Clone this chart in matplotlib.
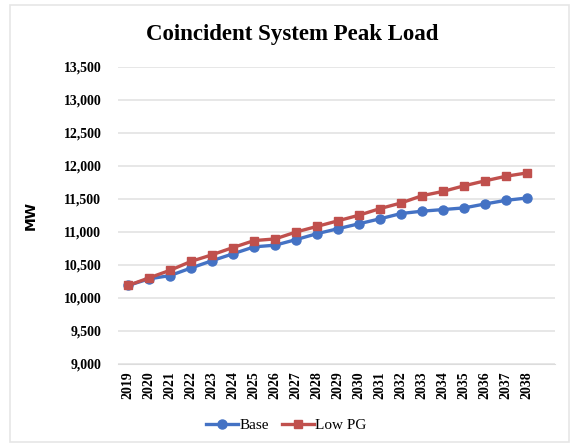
import numpy as np
import matplotlib
matplotlib.use('Agg')
import matplotlib.pyplot as plt
from matplotlib.patches import Rectangle

# Chart values
years = [str(y) for y in range(2019, 2039)]
base = [10190, 10290, 10340, 10455, 10565, 10670, 10775, 10800, 10885, 10975,
        11050, 11125, 11200, 11280, 11315, 11340, 11365, 11425, 11480, 11515]
low_pg = [10190, 10305, 10420, 10555, 10655, 10765, 10870, 10895, 11000, 11085,
          11170, 11255, 11355, 11440, 11550, 11615, 11700, 11775, 11845, 11895]
yticks = np.arange(9000, 13501, 500)

serif = 'Liberation Serif'

fig = plt.figure(figsize=(5.73, 4.48), dpi=100)
ax = fig.add_axes([0.206, 0.1875, 0.763, 0.663])

x = np.arange(len(years))
ax.plot(x, base, color='#4472C4', marker='o', markersize=6.5, linewidth=2.4, label='Base', zorder=3)
ax.plot(x, low_pg, color='#C0504D', marker='s', markersize=5.5, linewidth=2.4, label='Low PG', zorder=4)

ax.set_ylim(9000, 13500)
ax.set_xlim(-0.48, 20.34)
ax.set_yticks(yticks)
ax.set_yticklabels([f'{v:,}' for v in yticks], fontfamily=serif, fontweight='bold', fontsize=10)
ax.set_xticks(x)
ax.set_xticklabels(years, rotation=90, fontfamily=serif, fontweight='bold', fontsize=10)
ax.tick_params(length=0)
ax.tick_params(axis='y', pad=12)
ax.tick_params(axis='x', pad=5)
ax.grid(axis='y', color='#e3e3e3', linewidth=1.2)
ax.set_axisbelow(True)
for s in ['top', 'right', 'left']:
    ax.spines[s].set_visible(False)
ax.spines['bottom'].set_color('#dcdcdc')

ax.set_ylabel('MW', fontfamily='DejaVu Sans', fontweight='bold', fontsize=10)
ax.yaxis.set_label_coords(-0.183, 0.5)
fig.text(0.51, 0.922, 'Coincident System Peak Load', ha='center', va='center',
         fontfamily=serif, fontweight='bold', fontsize=16.5)

fig.legend(loc='center', bbox_to_anchor=(0.5, 0.05), ncol=2, frameon=False,
           prop={'family': serif, 'size': 11}, handlelength=2.1, columnspacing=0.8,
           handletextpad=0.1)

fig.patches.append(Rectangle((0.018, 0.013), 0.975, 0.975, transform=fig.transFigure,
                             fill=False, edgecolor='#e6e6e6', linewidth=1.2))

fig.savefig('out.png', dpi=100)
